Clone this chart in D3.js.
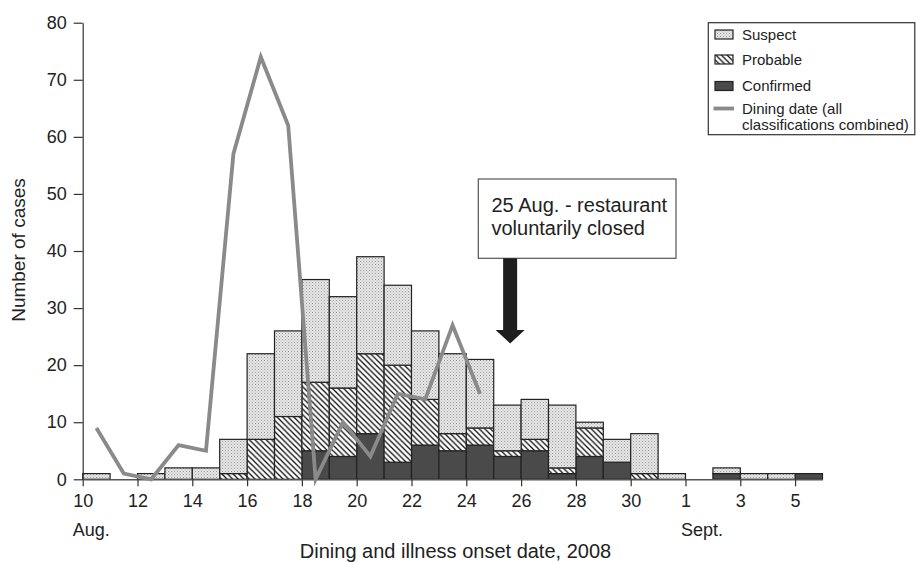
<!DOCTYPE html>
<html>
<head>
<meta charset="utf-8">
<script src="https://cdn.jsdelivr.net/npm/d3@7"></script>
<style>
  html, body { margin: 0; padding: 0; background: #fff; }
  svg { display: block; }
  text { font-family: "Liberation Sans", Arial, Helvetica, sans-serif; fill: #222; }
</style>
</head>
<body>
<svg id="chart" width="916" height="562"></svg>
<script>
// ---- data ----
const days = ["Aug 10","Aug 11","Aug 12","Aug 13","Aug 14","Aug 15","Aug 16","Aug 17","Aug 18","Aug 19",
              "Aug 20","Aug 21","Aug 22","Aug 23","Aug 24","Aug 25","Aug 26","Aug 27","Aug 28","Aug 29",
              "Aug 30","Aug 31","Sep 1","Sep 2","Sep 3","Sep 4","Sep 5"];
const confirmed = [0,0,0,0,0,0,0,0,5,4,8,3,6,5,6,4,5,1,4,3,0,0,0,1,0,0,1];
const probable  = [0,0,0,0,0,1,7,11,12,12,14,17,8,3,3,1,2,1,5,0,1,0,0,0,0,0,0];
const suspect   = [1,0,1,2,2,6,15,15,18,16,17,14,12,14,12,8,7,11,1,4,7,1,0,1,1,1,0];
const diningDays = days.slice(0, 15);
const dining    = [9,1,0,6,5,57,74,62,0,10,4,15,14,27,15];
const xTickIdx    = [0,2,4,6,8,10,12,14,16,18,20,22,24,26];
const xTickLabels = ["10","12","14","16","18","20","22","24","26","28","30","1","3","5"];
const yTicks = [0,10,20,30,40,50,60,70,80];
const seriesNames = ["Suspect","Probable","Confirmed"];
const closureDay = "Aug 25";

// ---- layout ----
const svg = d3.select("#chart");
const x = d3.scaleLinear().domain([0, days.length]).range([82.7, 822.5]);
const y = d3.scaleLinear().domain([0, 80]).range([479.3, 22.7]);

const defs = svg.append("defs");
// stipple pattern for Suspect
const pS = defs.append("pattern").attr("id","stipple").attr("patternUnits","userSpaceOnUse")
  .attr("width",3).attr("height",3);
pS.append("rect").attr("width",3).attr("height",3).attr("fill","#e6e6e6");
pS.append("rect").attr("x",0).attr("y",0).attr("width",1).attr("height",1).attr("fill","#9a9a9a");
pS.append("rect").attr("x",1.5).attr("y",1.5).attr("width",1).attr("height",1).attr("fill","#b5b5b5");
// hatch pattern for Probable
const pH = defs.append("pattern").attr("id","hatch").attr("patternUnits","userSpaceOnUse")
  .attr("width",5.6).attr("height",5.6);
pH.append("rect").attr("width",5.6).attr("height",5.6).attr("fill","#fff");
pH.append("path").attr("d","M-1,-1 L6.6,6.6 M-1,4.6 L1,6.6 M4.6,-1 L6.6,1")
  .attr("stroke","#111").attr("stroke-width",1.3);

const fills = {Suspect: "url(#stipple)", Probable: "url(#hatch)", Confirmed: "#4a4a4a"};

// stack
const rows = days.map((d,i) => ({day: d, i, Confirmed: confirmed[i], Probable: probable[i], Suspect: suspect[i]}));
const stack = d3.stack().keys(["Confirmed","Probable","Suspect"])(rows);

const gBars = svg.append("g");
stack.forEach(layer => {
  gBars.selectAll(null).data(layer.filter(s => s[1] - s[0] > 0)).enter().append("rect")
    .attr("x", s => x(s.data.i))
    .attr("width", s => x(s.data.i + 1) - x(s.data.i))
    .attr("y", s => y(s[1]))
    .attr("height", s => y(s[0]) - y(s[1]))
    .attr("fill", fills[layer.key])
    .attr("stroke", "#222")
    .attr("stroke-width", 1.2);
});

// axes
const yAxis = d3.axisLeft(y).tickValues(yTicks).tickSize(9).tickPadding(7).tickSizeOuter(0);
const gy = svg.append("g").attr("transform", `translate(${x(0)},0)`).call(yAxis);
gy.select(".domain").attr("stroke","#333").attr("stroke-width",1.2);
gy.selectAll(".tick line").attr("stroke","#333").attr("stroke-width",1.2);
gy.selectAll(".tick text").style("font-size","18px").attr("fill","#222");

const xAxis = d3.axisBottom(x).tickValues(xTickIdx).tickFormat((d,i) => xTickLabels[i])
  .tickSize(7).tickPadding(8).tickSizeOuter(0);
const gx = svg.append("g").attr("transform", `translate(0,${y(0)})`).call(xAxis);
gx.select(".domain").attr("stroke","#555").attr("stroke-width",1.4);
gx.selectAll(".tick line").attr("stroke","#333").attr("stroke-width",1.2);
gx.selectAll(".tick text").style("font-size","18px").attr("fill","#222");

svg.append("text").attr("x", x(0) - 10).attr("y", 536).style("font-size","18px").text("Aug.");
svg.append("text").attr("x", x(22) - 4.5).attr("y", 536).style("font-size","18px").text("Sept.");

svg.append("text").attr("x", 455.5).attr("y", 558).attr("text-anchor","middle")
  .style("font-size","20px").text("Dining and illness onset date, 2008");
svg.append("text").attr("transform","translate(25,250) rotate(-90)").attr("text-anchor","middle")
  .style("font-size","19px").text("Number of cases");

// dining-date line
const line = d3.line().x((d,i) => x(i + 0.5)).y(d => y(d));
svg.append("path").datum(dining).attr("d", line)
  .attr("fill","none").attr("stroke","#8a8a8a").attr("stroke-width",3.8)
  .attr("stroke-linejoin","miter").attr("stroke-miterlimit",10);

// annotation
const ci = days.indexOf(closureDay);
const ax = x(ci + 0.6);
svg.append("rect").attr("x",478.3).attr("y",179).attr("width",197.7).attr("height",79.3)
  .attr("fill","#fff").attr("stroke","#555").attr("stroke-width",1.2);
svg.append("text").attr("x",491.5).attr("y",211.5).style("font-size","20px").text("25 Aug. - restaurant");
svg.append("text").attr("x",491.5).attr("y",235).style("font-size","20px").text("voluntarily closed");
svg.append("path")
  .attr("d", `M${ax-7},258.3 L${ax+7},258.3 L${ax+7},330 L${ax+14.5},330 L${ax},343.5 L${ax-14.5},330 L${ax-7},330 Z`)
  .attr("fill","#1e1e1e");

// legend
const lg = svg.append("g");
lg.append("rect").attr("x",708.3).attr("y",22.7).attr("width",206.5).attr("height",112)
  .attr("fill","#fff").attr("stroke","#333").attr("stroke-width",1.2);
const legY = [34.5, 59.5, 86];
seriesNames.forEach((k,i) => {
  lg.append("rect").attr("x",715).attr("y",legY[i]-4.5).attr("width",18).attr("height",9)
    .attr("fill",fills[k]).attr("stroke","#222").attr("stroke-width",1.2);
  lg.append("text").attr("x",742).attr("y",legY[i]+5).style("font-size","15px").text(k);
});
lg.append("line").attr("x1",713.5).attr("x2",734).attr("y1",108.5).attr("y2",108.5)
  .attr("stroke","#8a8a8a").attr("stroke-width",3.8);
lg.append("text").attr("x",742).attr("y",114).style("font-size","15px").text("Dining date (all");
lg.append("text").attr("x",742).attr("y",130).style("font-size","15px").text("classifications combined)");
</script>
</body>
</html>
